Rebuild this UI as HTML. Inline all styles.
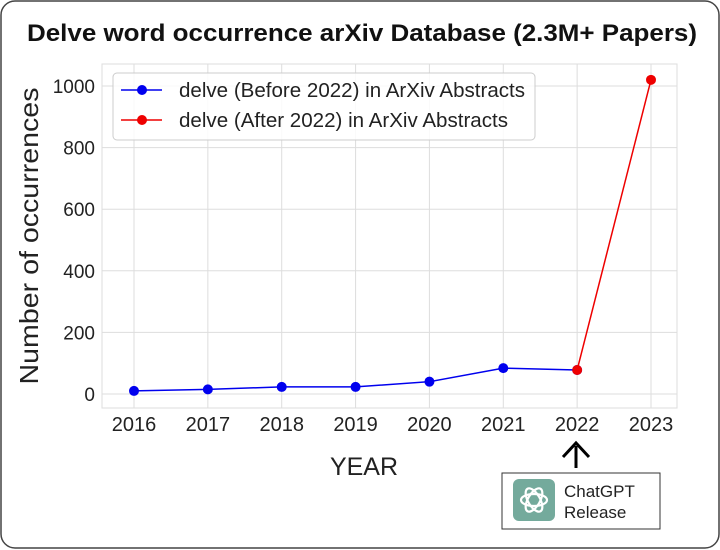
<!DOCTYPE html>
<html><head><meta charset="utf-8"><style>
body{margin:0;background:#fff;}
#wrap{position:relative;width:720px;height:550px;overflow:hidden;font-family:"Liberation Sans",sans-serif;}
</style></head><body>
<div id="wrap">
<svg id="svg" width="720" height="550" xmlns="http://www.w3.org/2000/svg">
<rect x="1" y="1" width="718" height="547" rx="14" fill="#fff" stroke="#444" stroke-width="1.5"/>
<text x="362" y="41" font-size="24" font-weight="bold" text-anchor="middle" textLength="670" lengthAdjust="spacingAndGlyphs" fill="#111">Delve word occurrence arXiv Database (2.3M+ Papers)</text>
<rect x="102" y="64" width="575" height="344" fill="#fff" stroke="#ddd" stroke-width="1"/>
<g id="grid"></g>
<g id="ticks"></g>
<text x="364" y="475" font-size="25" text-anchor="middle" fill="#222">YEAR</text>
<text transform="translate(38,236) rotate(-90)" font-size="26" text-anchor="middle" textLength="297" lengthAdjust="spacingAndGlyphs" fill="#222">Number of occurrences</text>
<g id="series"></g>
<g>
<rect x="113" y="73" width="422" height="67" rx="4" fill="#fff" fill-opacity="0.85" stroke="#ccc"/>
<g>
<line x1="121" y1="90" x2="162" y2="90" stroke="#0000ee" stroke-width="1.5"/><circle cx="142" cy="90" r="5" fill="#0000ee"/>
<text x="179" y="97" font-size="20" textLength="346" lengthAdjust="spacingAndGlyphs" fill="#222">delve (Before 2022) in ArXiv Abstracts</text></g>
<g>
<line x1="121" y1="120" x2="162" y2="120" stroke="#ee0000" stroke-width="1.5"/><circle cx="142" cy="120" r="5" fill="#ee0000"/>
<text x="179" y="127" font-size="20" textLength="329" lengthAdjust="spacingAndGlyphs" fill="#222">delve (After 2022) in ArXiv Abstracts</text></g>
</g>
<g>
<line x1="576" y1="468" x2="576" y2="446" stroke="#000" stroke-width="3"/>
<polyline points="563,457 576,443 589,457" fill="none" stroke="#000" stroke-width="3"/>
<rect x="502" y="473" width="158" height="56" fill="#fff" stroke="#333"/>
<rect x="513" y="479" width="42" height="42" rx="6" fill="#74aa9c"/>
<g transform="translate(534,500)" fill="none" stroke="#fff" stroke-width="2.2">
<ellipse rx="13" ry="6"/><ellipse rx="13" ry="6" transform="rotate(60)"/><ellipse rx="13" ry="6" transform="rotate(120)"/></g>
<text x="564" y="497" font-size="17" fill="#222">ChatGPT</text>
<text x="564" y="518" font-size="17" fill="#222">Release</text>
</g>
</svg>
</div>
<script>
const years=[2016,2017,2018,2019,2020,2021,2022,2023];
const valuesBefore=[10,15,23,23,40,84,78];
const valuesAfter=[78,1020];
const yTicks=[0,200,400,600,800,1000];
const NS="http://www.w3.org/2000/svg";
function sx(i){return 134+(651-134)*i/7;}
function sy(v){return 394-v*(394-86)/1000;}
function mk(t,a,p){const e=document.createElementNS(NS,t);for(const k in a)e.setAttribute(k,a[k]);p.appendChild(e);return e;}
const grid=document.getElementById('grid'),ticks=document.getElementById('ticks'),ser=document.getElementById('series');
years.forEach((y,i)=>{
 const g=mk('line',{x1:sx(i),x2:sx(i),y1:64,y2:408,stroke:'#ddd','stroke-width':1},grid);
 
 
 const t=mk('text',{x:sx(i),y:431,'font-size':20,'text-anchor':'middle',fill:'#222'},ticks);t.textContent=y;
 
 
});
yTicks.forEach(v=>{
 const g=mk('line',{x1:102,x2:677,y1:sy(v),y2:sy(v),stroke:'#ddd','stroke-width':1},grid);
 
 
 const t=mk('text',{x:95,y:sy(v)+7,'font-size':19,'text-anchor':'end',fill:'#222'},ticks);t.textContent=v;
 
 
});
function draw(vals,off,color,name){
 const pts=vals.map((v,i)=>sx(i+off)+','+sy(v)).join(' ');
 const l=mk('polyline',{points:pts,fill:'none',stroke:color,'stroke-width':1.5},ser);
 
 
 vals.forEach((v,i)=>{const c=mk('circle',{cx:sx(i+off),cy:sy(v),r:5,fill:color},ser);
 
 });
}
draw(valuesBefore,0,'#0000ee','before-2022');
draw(valuesAfter,6,'#ee0000','after-2022');
</script>
</body></html>
